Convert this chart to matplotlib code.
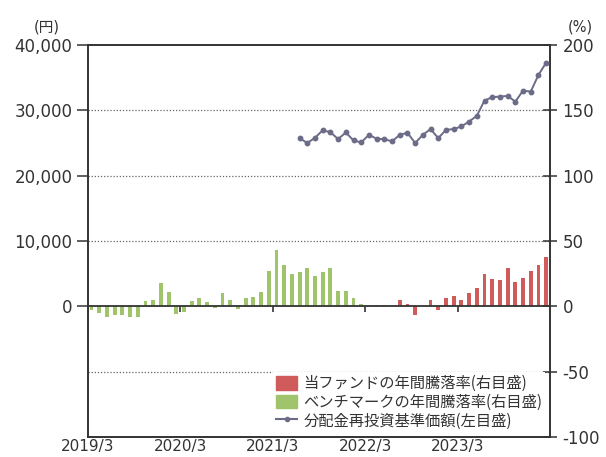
import numpy as np
import matplotlib.pyplot as plt
from matplotlib.patches import Patch
from matplotlib.lines import Line2D

plt.rcParams['font.family'] = ['DejaVu Sans', 'Noto Sans CJK JP']
plt.rcParams['axes.unicode_minus'] = False

# data (monthly, 60 months starting 2019/3)
n_months = 60
tick_labels = ['2019/3', '2020/3', '2021/3', '2022/3', '2023/3']

# benchmark annual return (%), months 0..38
bench = [-3, -5, -8, -7, -7, -8, -8,
         4, 5, 18, 11,
         -6, -4,
         4, 6, 3, -1, 10, 5, -2, 6, 7, 11,
         27, 43, 32, 25, 26, 29, 23, 26, 29,
         12, 12, 6.5, 2, 1, 1, 1]

# fund annual return (%), months 39..59
fund = [0.5, 4.5, 2, -6.5, 0.5, 5, -3, 6.5, 8, 5, 10, 14,
        25, 21, 20.5, 29, 19, 22, 27, 32, 37.5]

# NAV with dividends reinvested (yen), months 27..59
nav = [25750, 25000, 25800, 26950, 26650, 25600, 26610, 25390, 25080, 26260,
       25650, 25600, 25240, 26260, 26560, 25000, 26260, 27130, 25750, 27020,
       27130, 27530, 28290, 29160, 31500, 32010, 32110, 32210, 31340, 33020,
       32870, 35420, 37300]

GREEN = '#a0c46c'
RED = '#cf5b5b'
LINE = '#6c6c88'
DARK = '#333333'

x_bench = np.arange(len(bench)) + 0.5
x_fund = np.arange(len(bench), len(bench) + len(fund)) + 0.5
x_nav = np.arange(n_months - len(nav), n_months) + 0.5

fig = plt.figure(figsize=(6.06, 4.57), dpi=100)
ax = fig.add_axes([0.1447, 0.0438, 0.7629, 0.8577])
ax2 = ax.twinx()

# bars on right axis
ax2.bar(x_bench, bench, width=0.5, color=GREEN, zorder=3)
ax2.bar(x_fund, fund, width=0.5, color=RED, zorder=3)
ax2.set_ylim(-100, 200)
ax2.set_yticks([200, 150, 100, 50, 0, -50, -100])
ax2.hlines([150, 100, 50, -50], 0, n_months, colors='#666666',
           linestyles=(0, (1, 1.5)), lw=0.9, zorder=1)
ax2.axhline(0, color=DARK, lw=1.3, zorder=4)
ax2.vlines([0, 12, 24, 36, 48], -4, 0, colors=DARK, lw=1.2, zorder=4)

# line on left axis
ax.plot(x_nav, nav, color=LINE, lw=1.4, marker='o', ms=3.2, zorder=5)
ax.set_ylim(-20000, 40000)
ax.set_yticks([0, 10000, 20000, 30000, 40000])
ax.set_yticklabels(['0', '10,000', '20,000', '30,000', '40,000'])
ax.set_xlim(0, n_months)
ax.set_xticks([0, 12, 24, 36, 48])
ax.set_xticklabels(tick_labels)

ax.set_zorder(ax2.get_zorder() + 1)
ax.patch.set_visible(False)

for a in (ax, ax2):
    for s in a.spines.values():
        s.set_color(DARK)
        s.set_linewidth(1.2)

ax.tick_params(axis='y', direction='out', length=8, width=1.1, pad=3,
               labelsize=12, colors=DARK)
ax.tick_params(axis='x', length=0, pad=1.5, labelsize=11, colors=DARK)
ax2.tick_params(axis='y', direction='inout', length=10, width=1.1, pad=4,
                labelsize=12, colors=DARK)

fig.text(47 / 606, 1 - 27 / 457, '(円)', ha='center', va='center',
         fontsize=10.5, color=DARK)
fig.text(580 / 606, 1 - 27 / 457, '(%)', ha='center', va='center',
         fontsize=10.5, color=DARK)

handles = [Patch(color=RED), Patch(color=GREEN),
           Line2D([], [], color=LINE, lw=1.5, marker='o', ms=3)]
labels = ['当ファンドの年間騰落率(右目盛)', 'ベンチマークの年間騰落率(右目盛)',
          '分配金再投資基準価額(左目盛)']
leg = ax.legend(handles, labels, loc='lower right', bbox_to_anchor=(1, 0),
                borderaxespad=0.3, borderpad=0.2, frameon=True, fancybox=False,
                edgecolor='none', facecolor='white', framealpha=1,
                handlelength=1.4, handleheight=1.0, handletextpad=0.4,
                labelspacing=0.1, prop={'family': ['Noto Sans CJK JP'], 'size': 11})
for t in leg.get_texts():
    t.set_color(DARK)

fig.savefig('out.png', dpi=100)
